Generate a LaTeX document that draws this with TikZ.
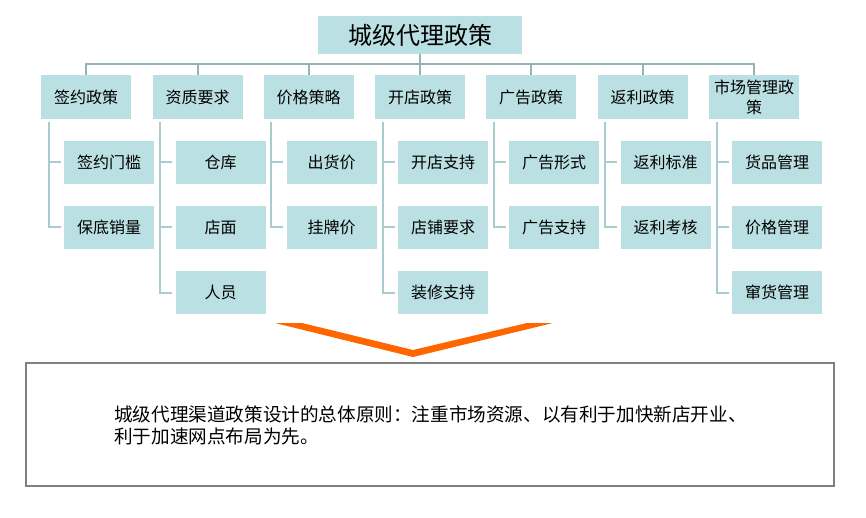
\documentclass[tikz,border=0pt]{standalone}
\usepackage{fontspec}
\setmainfont{Noto Sans CJK SC}
\definecolor{boxfill}{RGB}{187,224,227}
\definecolor{busline}{RGB}{150,178,181}
\definecolor{kidline}{RGB}{170,204,208}
\definecolor{chev}{RGB}{255,102,0}
\definecolor{frame}{RGB}{128,128,128}
\tikzset{
  topbox/.style={fill=boxfill,minimum width=204pt,minimum height=38pt,inner sep=0pt,font=\fontsize{24}{27}\selectfont},
  catbox/.style={fill=boxfill,minimum width=90pt,minimum height=44pt,inner sep=0pt,align=center,font=\fontsize{16}{20}\selectfont},
  kidbox/.style={fill=boxfill,minimum width=90pt,minimum height=43pt,inner sep=0pt,font=\fontsize{16}{20}\selectfont},
  bus/.style={draw=busline,line width=2pt},
  kid/.style={draw=kidline,line width=2pt},
}
\begin{document}
\begin{tikzpicture}[x=1pt,y=-1pt]
\useasboundingbox (0,0) rectangle (866,518);
% title
\node[topbox] (top) at (420,35) {城级代理政策};
% categories
\node[catbox] (c1) at (86,97) {签约政策};
\node[catbox] (c2) at (197.5,97) {资质要求};
\node[catbox] (c3) at (308.5,97) {价格策略};
\node[catbox] (c4) at (420,97) {开店政策};
\node[catbox] (c5) at (531,97) {广告政策};
\node[catbox] (c6) at (642.5,97) {返利政策};
\node[catbox] (c7) at (754,97) {市场管理政\\策};
\coordinate (busy) at (0,64);
% children
\node[kidbox] (k11) at (109,162.5) {签约门槛};
\node[kidbox] (k12) at (109,227.5) {保底销量};
\node[kidbox] (k21) at (220.5,162.5) {仓库};
\node[kidbox] (k22) at (220.5,227.5) {店面};
\node[kidbox] (k23) at (220.5,292.5) {人员};
\node[kidbox] (k31) at (331.5,162.5) {出货价};
\node[kidbox] (k32) at (331.5,227.5) {挂牌价};
\node[kidbox] (k41) at (443,162.5) {开店支持};
\node[kidbox] (k42) at (443,227.5) {店铺要求};
\node[kidbox] (k43) at (443,292.5) {装修支持};
\node[kidbox] (k51) at (554,162.5) {广告形式};
\node[kidbox] (k52) at (554,227.5) {广告支持};
\node[kidbox] (k61) at (665.5,162.5) {返利标准};
\node[kidbox] (k62) at (665.5,227.5) {返利考核};
\node[kidbox] (k71) at (777,162.5) {货品管理};
\node[kidbox] (k72) at (777,227.5) {价格管理};
\node[kidbox] (k73) at (777,292.5) {窜货管理};
% bus connectors
\draw[bus] (top.south) -- (top.south |- busy);
\draw[bus] (c1.north) -- (c1.north |- busy) -- (c7.north |- busy) -- (c7.north);
\foreach \c in {c2,c3,c4,c5,c6}
  \draw[bus] (\c.north) -- (\c.north |- busy);
% child connectors
\foreach \c/\k in {c1/k11,c1/k12,c2/k21,c2/k22,c2/k23,c3/k31,c3/k32,c4/k41,c4/k42,c4/k43,c5/k51,c5/k52,c6/k61,c6/k62,c7/k71,c7/k72,c7/k73}
  \draw[kid] ([xshift=8pt,yshift=-3pt]\c.south west) |- ([xshift=-3pt]\k.west);
% chevron
\fill[chev] (275,323) -- (302,323) -- (413,350) -- (527,323) -- (553,323) -- (413,357) -- cycle;
% bottom box
\node[draw=frame,line width=2pt,minimum width=808pt,minimum height=123pt,inner sep=0pt] (summary) at (430,424.5) {};
\node[anchor=west,align=left,inner sep=0pt,font=\fontsize{18.6}{21.5}\selectfont] (summarytext) at (114,425.5)
  {城级代理渠道政策设计的总体原则：注重市场资源、以有利于加快新店开业、\\利于加速网点布局为先。};
\end{tikzpicture}
\end{document}
